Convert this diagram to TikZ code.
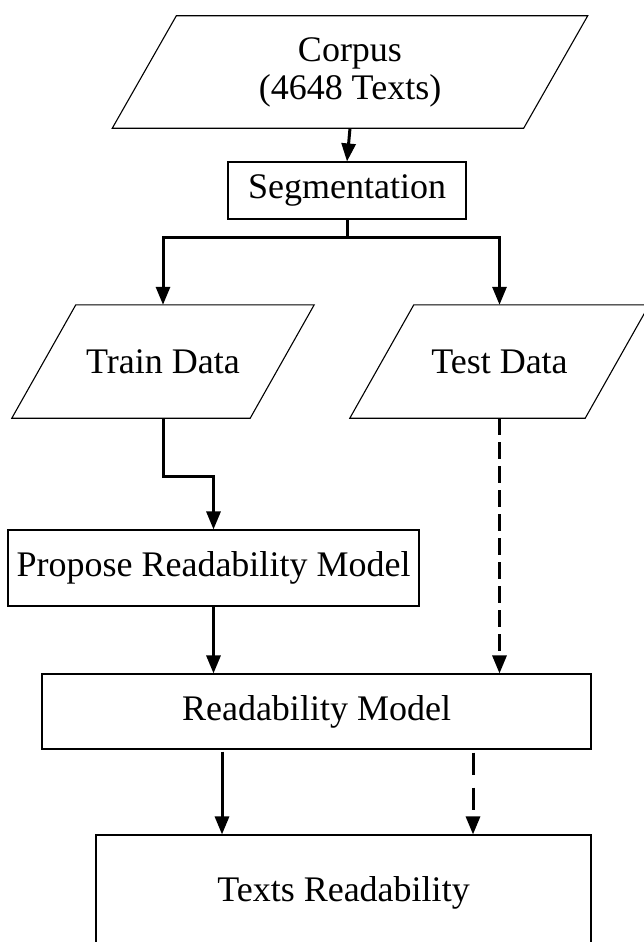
\documentclass[tikz,border=0pt]{standalone}
\usepackage{fontspec}
\setmainfont{Liberation Serif}
\usetikzlibrary{arrows.meta,calc}
\newcommand\drawpara[1]{\draw[paraline] ([xshift=32pt]#1.north west) -- ([xshift=32pt]#1.north east) -- ([xshift=-32pt]#1.south east) -- ([xshift=-32pt]#1.south west) -- cycle;}
\begin{document}
\begin{tikzpicture}[x=1pt,y=-1pt,
  txt/.style={inner sep=0pt, font=\fontsize{36}{38}\selectfont, align=center},
  box/.style={txt, draw=black, line width=1.1pt},
  paraline/.style={draw=black, line width=1.1pt, line join=miter},
  conn/.style={line width=3pt},
  arr/.style={conn, -{Triangle[length=18pt,width=14pt]}},
  dashline/.style={dash pattern=on 17pt off 7pt},
  dashlong/.style={dash pattern=on 22pt off 13pt}
]
\useasboundingbox (0,0) rectangle (643,942);

% nodes
\node[txt, minimum width=411pt, minimum height=112pt] (corpus) at (350,72) {Corpus\\(4648 Texts)};
\drawpara{corpus}
\node[box, minimum width=238pt, minimum height=57pt] (seg) at (347,190.5) {Segmentation};
\node[txt, minimum width=238pt, minimum height=113pt] (train) at (163,361.5) {Train Data};
\drawpara{train}
\node[txt, minimum width=235pt, minimum height=113pt] (test) at (499.5,361.5) {Test Data};
\drawpara{test}
\node[box, minimum width=411pt, minimum height=76pt] (propose) at (213.5,568) {Propose Readability Model};
\node[box, minimum width=549pt, minimum height=75pt] (model) at (316.5,711.5) {Readability Model};
\node[box, minimum width=495pt, minimum height=116pt] (result) at (343.5,893) {Texts Readability};

% connectors
\draw[arr] (corpus.south) -- (seg.north);
\draw[conn] (seg.south) -- ++(0,18) coordinate (split);
\draw[arr] (split) -| (train.north);
\draw[arr] (split) -| (test.north);
\draw[arr] (train.south) -- ++(0,58) -| (propose.north);
\draw[arr] (propose.south) -- (propose.south |- model.north);
\draw[arr, dashline] (test.south) -- (test.south |- model.north);
\draw[arr] ([xshift=-94.5pt,yshift=-2pt]model.south) -- ([xshift=-94.5pt]model.south |- result.north);
\draw[arr, dashlong] ([xshift=156.5pt,yshift=-3pt]model.south) -- ([xshift=156.5pt]model.south |- result.north);
\end{tikzpicture}
\end{document}
